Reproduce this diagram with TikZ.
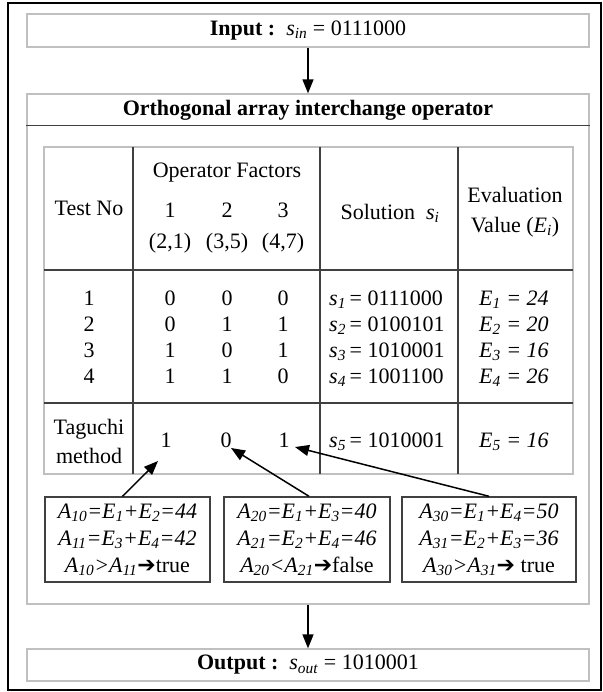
\documentclass[tikz,border=0pt]{standalone}
\usepackage{fontspec}
\setmainfont{Liberation Serif}
\newfontfamily\dingfont{DejaVu Sans}
\usetikzlibrary{arrows.meta,positioning,calc}
\definecolor{panelGray}{RGB}{192,192,192}
\definecolor{gridDark}{RGB}{64,64,64}
\newcommand{\sbs}[2]{\textit{#1}\textsubscript{\textit{#2}}}
\newcommand{\imp}{{\dingfont\bfseries ➔}}

\begin{document}
\begin{tikzpicture}[x=1pt, y=-1pt,
    panel/.style={draw=panelGray, line width=1.3pt, minimum width=562pt, align=center, font=\fontsize{22}{27}\selectfont},
    txt/.style={font=\fontsize{22}{27}\selectfont, inner sep=1pt, align=center},
    row/.style={txt, anchor=base},
    calc/.style={draw=gridDark, line width=1.4pt, minimum height=85pt, inner sep=0pt, align=center, font=\fontsize{22}{27}\selectfont\itshape},
    grid/.style={draw=gridDark, line width=1.4pt},
    arr/.style={-{Triangle[length=14pt,width=11pt]}, line width=1.5pt}
]
\useasboundingbox (0,0) rectangle (602,692);
\draw[line width=2pt] (8,3) rectangle (600.5,690);

% input, operator frame, output
\node[panel, minimum height=33pt] (input) at (308,30.5) {\textbf{Input :}\ \ \sbs{s}{in} = 0111000};
\node[panel, minimum height=510pt] (oper) at (308,349) {};
\node[panel, minimum height=32pt] (output) at (308,665) {\textbf{Output :}\ \ \sbs{s}{out} = 1010001};
\node[txt, font=\fontsize{22}{27}\selectfont\bfseries] (title) at (308,110) {Orthogonal array interchange operator};
\draw[grid] ([yshift=-32pt]oper.north west) -- ([yshift=-32pt]oper.north east);

\draw[arr] (input) -- (oper);
\draw[arr] (oper) -- (output);

% table
\draw[draw=panelGray, line width=1.3pt] (44,147) rectangle (573,474);
\foreach \x in {133,320,458} \draw[grid] (\x,147) -- (\x,474);
\foreach \y in {270,403} \draw[grid] (44,\y) -- (573,\y);

\node[txt] (htest) at (89,208) {Test No};
\node[txt] (hfact) at (227,173) {Operator Factors};
\foreach \i/\x/\p in {1/170/{(2,1)},2/227/{(3,5)},3/283/{(4,7)}} {
    \node[txt] (hf\i) at (\x,210) {\i};
    \node[txt] (hp\i) at (\x,243) {\p};
}
\node[txt] (hsol) at (390,213) {Solution\ \ \sbs{s}{i}};
\node[txt, font=\fontsize{22}{30}\selectfont] (heval) at (515,212) {Evaluation\\Value (\sbs{E}{i})};

\foreach \n/\y/\a/\b/\c/\s/\e in {1/305/0/0/0/0111000/24, 2/331/0/1/1/0100101/20, 3/357/1/0/1/1010001/16, 4/383/1/1/0/1001100/26} {
    \node[row] (no\n) at (89,\y) {\n};
    \node[row] (fa\n) at (170,\y) {\a};
    \node[row] (fb\n) at (227,\y) {\b};
    \node[row] (fc\n) at (283,\y) {\c};
    \node[row, anchor=base west] (so\n) at (328,\y) {\sbs{s}{\n}\,= \s};
    \node[row, anchor=base west] (ev\n) at (478,\y) {\sbs{E}{\n} \textit{= \e}};
}

\node[txt, font=\fontsize{22}{29}\selectfont] (tag) at (89,441) {Taguchi\\method};
\node[row] (t1) at (166,447) {1};
\node[row] (t2) at (226,447) {0};
\node[row] (t3) at (284,447) {1};
\node[row, anchor=base west] (so5) at (328,447) {\sbs{s}{5}\,= 1010001};
\node[row, anchor=base west] (ev5) at (478,447) {\sbs{E}{5} \textit{= 16}};

% calculation boxes
\node[calc, minimum width=165pt] (c1) at (127.5,539.5) {\sbs{A}{10}=\sbs{E}{1}+\sbs{E}{2}=44\\\sbs{A}{11}=\sbs{E}{3}+\sbs{E}{4}=42\\\sbs{A}{10}>\sbs{A}{11}\imp\textup{true}};
\node[calc, minimum width=166pt] (c2) at (307,539.5) {\sbs{A}{20}=\sbs{E}{1}+\sbs{E}{3}=40\\\sbs{A}{21}=\sbs{E}{2}+\sbs{E}{4}=46\\\sbs{A}{20}<\sbs{A}{21}\imp\textup{false}};
\node[calc, minimum width=174pt] (c3) at (489,539.5) {\sbs{A}{30}=\sbs{E}{1}+\sbs{E}{4}=50\\\sbs{A}{31}=\sbs{E}{2}+\sbs{E}{3}=36\\\sbs{A}{30}>\sbs{A}{31}\imp\ \textup{true}};

\draw[arr] ([xshift=-5pt]c1.north) -- ([shift={(-8,14)}]t1.base);
\draw[arr] ([xshift=2pt]c2.north) -- ([shift={(5,1)}]t2.base);
\draw[arr] (c3.north) -- ([shift={(11,0)}]t3.base);
\end{tikzpicture}
\end{document}
